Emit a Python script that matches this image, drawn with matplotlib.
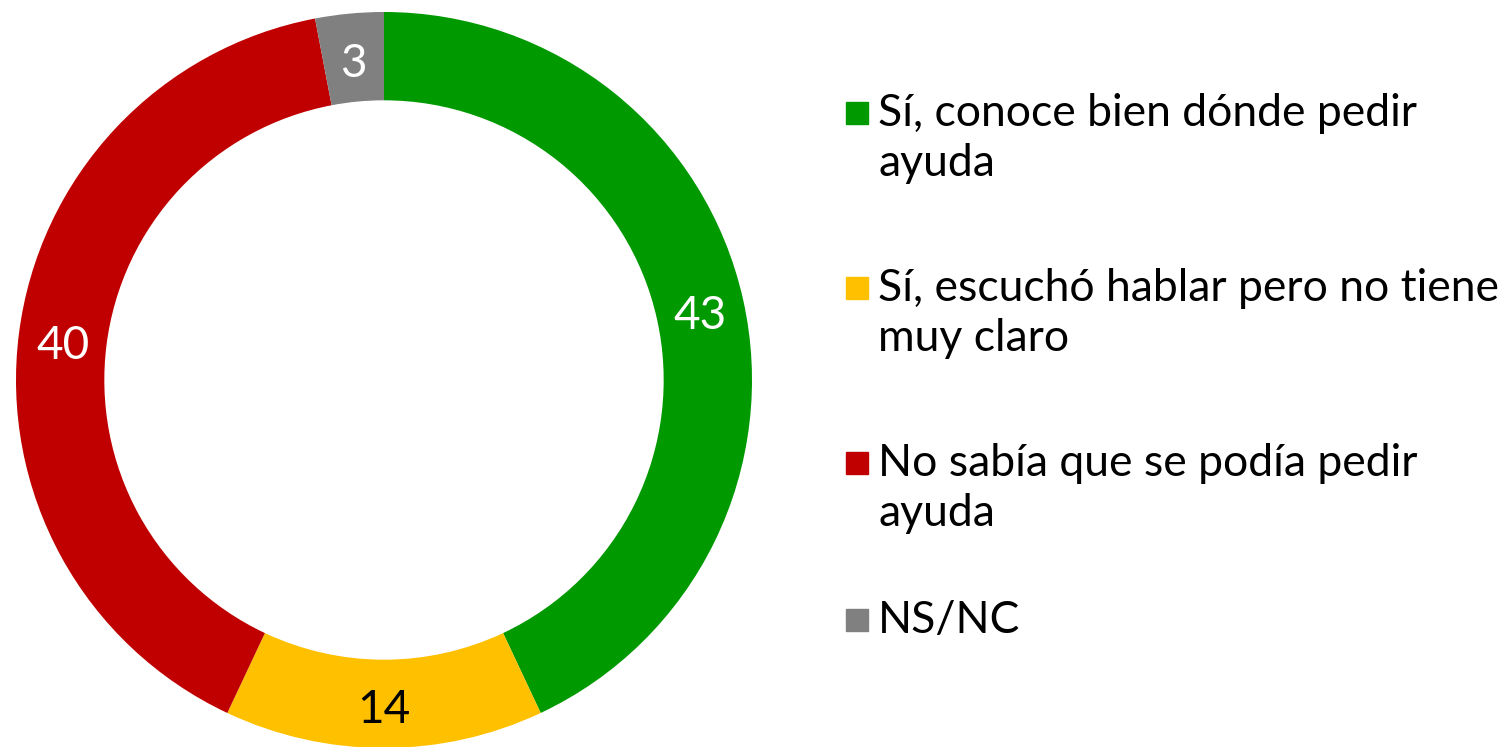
import matplotlib
matplotlib.use("Agg")
import numpy as np
import matplotlib.pyplot as plt
from matplotlib.patches import Rectangle

plt.rcParams['font.family'] = ['Lato', 'DejaVu Sans']

# Data
labels = ["Sí, conoce bien dónde pedir\nayuda",
          "Sí, escuchó hablar pero no tiene\nmuy claro",
          "No sabía que se podía pedir\nayuda",
          "NS/NC"]
values = [43, 14, 40, 3]
colors = ["#009900", "#FFC000", "#C00000", "#808080"]
text_colors = ["white", "black", "white", "white"]

W, H = 1500, 747
fig = plt.figure(figsize=(W / 100, H / 100), dpi=100)

# donut: center (384, 380) px, outer radius 368 px
cx, cy, r = 384, 380, 368
ax = fig.add_axes([(cx - r) / W, (H - cy - r) / H, 2 * r / W, 2 * r / H])
width = 0.24
ax.pie(values, colors=colors, startangle=90, counterclock=False,
       radius=1, wedgeprops=dict(width=width, linewidth=0))
ax.set_xlim(-1, 1)
ax.set_ylim(-1, 1)
ax.set_aspect('equal')
ax.axis('off')

total = sum(values)
start = 90
rr = 1 - width / 2
for v, tc in zip(values, text_colors):
    mid = start - v / total * 360 / 2
    start -= v / total * 360
    ax.text(rr * np.cos(np.radians(mid)), rr * np.sin(np.radians(mid)) - 0.018,
            str(v), ha='center', va='center', fontsize=33, color=tc)

# legend drawn by hand, one line of text at a time
ys = [113, 288, 463, 620]
for lab, col, y in zip(labels, colors, ys):
    fig.patches.append(Rectangle((846 / W, (H - y - 11) / H), 22 / W, 22 / H,
                                 transform=fig.transFigure, color=col))
    for i, line in enumerate(lab.split("\n")):
        fig.text(878 / W, (H - y - 13 - 50 * i) / H, line, fontsize=32,
                 color='black', ha='left', va='baseline')

fig.savefig("out.png", dpi=100)
